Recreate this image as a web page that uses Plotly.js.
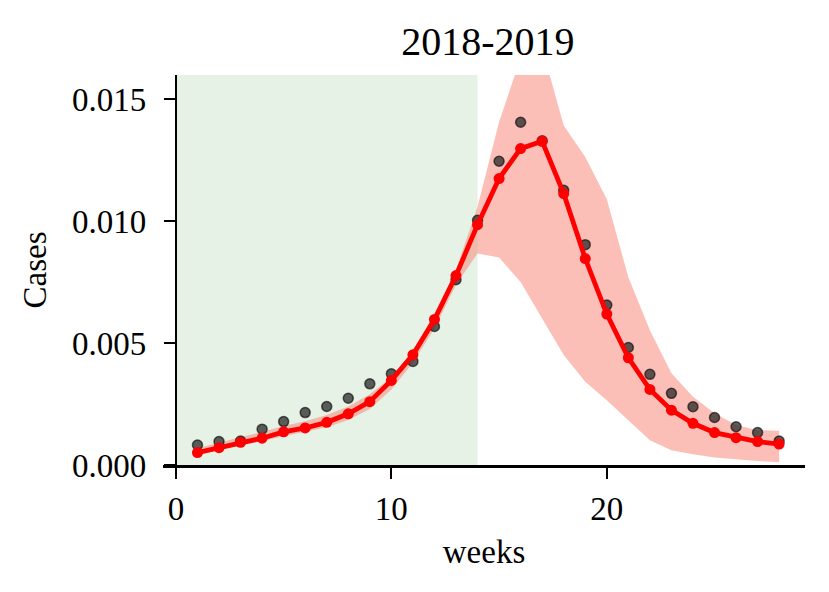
<!DOCTYPE html>
<html>
<head>
<meta charset="utf-8">
<script src="https://cdn.plot.ly/plotly-3.0.1.min.js"></script>
<style>
  html, body { margin: 0; padding: 0; background: #fff; }
  #plot { width: 829px; height: 592px; }
</style>
</head>
<body>
<div id="plot"></div>
<script>
        // weekly values
        const weeks = [1, 2, 3, 4, 5, 6, 7, 8, 9, 10, 11, 12, 13, 14,
                       15, 16, 17, 18, 19, 20, 21, 22, 23, 24, 25, 26, 27, 28];

        const observed = [0.00082, 0.00096, 0.00098, 0.00147, 0.00178, 0.00215, 0.0024,
                          0.00274, 0.00333, 0.00374, 0.00425, 0.00568, 0.0076, 0.01004,
                          0.01246, 0.01406, 0.0133, 0.01127, 0.00904, 0.00656, 0.00482,
                          0.00372, 0.00294, 0.00239, 0.00195, 0.00157, 0.00133, 0.00098];

        const predicted = [0.00051, 0.00071, 0.00093, 0.0011, 0.00136, 0.00152, 0.00175,
                           0.0021, 0.0026, 0.00347, 0.00452, 0.00597, 0.00777, 0.00986,
                           0.01175, 0.01298, 0.01328, 0.01113, 0.00847, 0.00619, 0.0044,
                           0.0031, 0.00225, 0.00171, 0.00133, 0.00112, 0.00096, 0.00086];

        const bandUpper = [0.0007, 0.0009, 0.00115, 0.00135, 0.0016, 0.0018, 0.00205,
                           0.0024, 0.0029, 0.0036, 0.0047, 0.0062, 0.008, 0.0106,
                           0.01407, 0.0167, 0.0171, 0.01393, 0.01264, 0.0109, 0.0077,
                           0.00553, 0.00376, 0.0028, 0.00212, 0.00164, 0.00143, 0.00141];

        const bandLower = [0.00045, 0.00062, 0.00082, 0.00098, 0.00118, 0.00135, 0.00155,
                           0.00185, 0.0023, 0.0031, 0.0042, 0.0056, 0.0074, 0.00868,
                           0.00851, 0.00751, 0.00601, 0.00451, 0.00342, 0.00266, 0.00184,
                           0.00102, 0.00061, 0.00044, 0.00031, 0.00023, 0.00016, 0.00011];

        const trainEnd = 14;
        const xTicks = [0, 10, 20];
        const yTicks = [0, 0.005, 0.01, 0.015];

        const serif = 'Liberation Serif, DejaVu Serif, serif';
        const xRange = [-0.6, 29.2];

        const traces = [
            {
                x: weeks, y: bandLower,
                mode: 'lines', line: { width: 0 },
                hoverinfo: 'skip', showlegend: false,
            },
            {
                x: weeks, y: bandUpper,
                mode: 'lines', line: { width: 0 },
                fill: 'tonexty', fillcolor: 'rgba(250,128,114,0.5)',
                hoverinfo: 'skip', showlegend: false,
            },
            {
                x: weeks, y: observed,
                mode: 'markers',
                marker: { size: 10, color: 'rgba(40,40,40,0.75)', line: { color: 'rgba(0,0,0,0.6)', width: 1.5 } },
                showlegend: false,
            },
            {
                x: weeks, y: predicted,
                mode: 'lines+markers',
                line: { color: '#ff0000', width: 4.8 },
                marker: { size: 11, color: '#ff0000' },
                showlegend: false,
            },
        ];

        const layout = {
            width: 829,
            height: 592,
            margin: { l: 163, r: 24, t: 75, b: 127 },
            paper_bgcolor: '#ffffff',
            plot_bgcolor: 'rgba(0,0,0,0)',
            font: { family: serif, size: 33, color: '#000' },
            title: {
                text: '2018-2019',
                font: { family: serif, size: 40, color: '#000' },
                x: 0.506, xref: 'paper', xanchor: 'center',
                y: 1 - 41 / 592, yref: 'container', yanchor: 'middle',
            },
            xaxis: {
                range: xRange,
                tickvals: xTicks,
                ticktext: xTicks.map(String),
                ticks: 'outside', ticklen: 11, tickwidth: 2.2, tickcolor: '#000',
                showline: true, linecolor: '#000', linewidth: 2.5,
                showgrid: false, zeroline: false,
                ticklabelstandoff: 2,
                title: { text: 'weeks', standoff: 14, font: { family: serif, size: 33 } },
            },
            yaxis: {
                range: [0, 0.016],
                anchor: 'free',
                position: (0 - xRange[0]) / (xRange[1] - xRange[0]),
                tickvals: yTicks,
                ticktext: yTicks.map(v => v.toFixed(3)),
                ticks: 'outside', ticklen: 11, tickwidth: 2.2, tickcolor: '#000',
                showline: true, linecolor: '#000', linewidth: 2.5,
                showgrid: false, zeroline: false,
                ticklabelstandoff: 11,
                title: { text: 'Cases', standoff: 14, font: { family: serif, size: 33 } },
            },
            shapes: [
                {
                    type: 'rect', layer: 'below',
                    xref: 'x', yref: 'paper',
                    x0: 0, x1: trainEnd, y0: 0, y1: 1,
                    fillcolor: 'rgba(0,128,0,0.1)', line: { width: 0 },
                },
            ],
        };

        Plotly.newPlot('plot', traces, layout, { displayModeBar: false, staticPlot: true });
</script>
</body>
</html>
